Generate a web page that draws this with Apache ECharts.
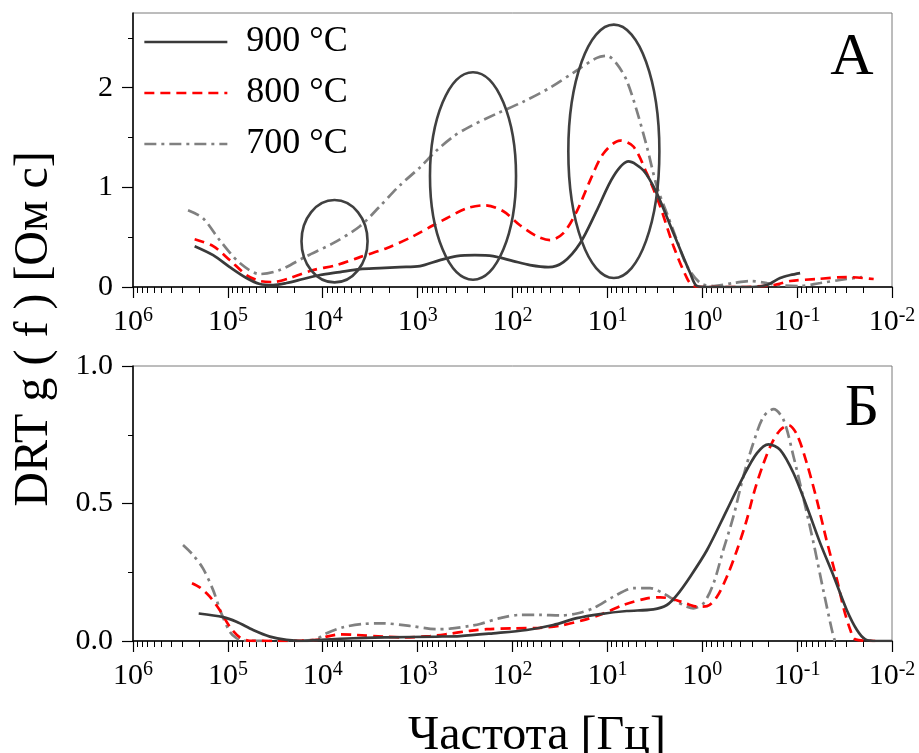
<!DOCTYPE html>
<html>
<head>
<meta charset="utf-8">
<script src="https://cdn.jsdelivr.net/npm/echarts@6/dist/echarts.min.js"></script>
<style>
  html, body { margin: 0; padding: 0; background: #fff; }
  #chart { width: 919px; height: 753px; }
</style>
</head>
<body>
<div id="chart"></div>
<script>
// Frequency axis: decades from 1 MHz down to 10 mHz
const decadeTicks = [1e6, 1e5, 1e4, 1e3, 1e2, 1e1, 1e0, 1e-1, 1e-2];
const seriesNames = ['900 °C', '800 °C', '700 °C'];
const panelLetters = ['А', 'Б'];
const yTicksA = [0, 1, 2];
const yMinorA = [0.5, 1.5, 2.5];
const yTicksB = [0, 0.5, 1];
const yMinorB = [0.25, 0.75];

// Panel А: DRT g(f), Ом·с
const freqA900 = [2.24e5, 1.43e5, 9.55e4, 6.37e4, 4.6e4, 3.33e4, 2.41e4, 1.61e4, 1.07e4, 6.6e3, 4.06e3, 2.5e3, 1.54e3, 946, 582, 388, 249, 160, 98, 65.3, 41.9, 29.1, 19.4, 12.9, 8.65, 6.0, 4.17, 3.01, 2.01, 1.34, 1.14, 0.89, 0.5, 0.3, 0.208, 0.151, 0.118, 0.093];
const gA900    = [0.41, 0.32, 0.20, 0.09, 0.03, 0.02, 0.04, 0.08, 0.12, 0.15, 0.18, 0.19, 0.20, 0.21, 0.27, 0.31, 0.32, 0.31, 0.26, 0.22, 0.20, 0.25, 0.44, 0.77, 1.11, 1.26, 1.17, 0.94, 0.54, 0.14, 0.01, 0, 0, 0, 0.02, 0.09, 0.12, 0.14];

const freqA800 = [2.24e5, 1.43e5, 9.55e4, 6.37e4, 4.6e4, 3.33e4, 2.22e4, 1.26e4, 7.14e3, 4.06e3, 2.12e3, 1.11e3, 684, 494, 304, 195, 125, 83.4, 55.6, 40.3, 29.1, 21.0, 15.2, 11.0, 7.35, 5.32, 3.84, 2.78, 2.01, 1.45, 1.24, 0.89, 0.4, 0.177, 0.118, 0.062, 0.030, 0.0156];
const gA800    = [0.48, 0.41, 0.27, 0.12, 0.06, 0.05, 0.09, 0.17, 0.22, 0.30, 0.39, 0.51, 0.62, 0.69, 0.79, 0.82, 0.76, 0.62, 0.51, 0.47, 0.54, 0.76, 1.07, 1.34, 1.47, 1.41, 1.14, 0.81, 0.41, 0.09, 0.01, 0, 0, 0.02, 0.06, 0.08, 0.10, 0.08];

const freqA700 = [2.63e5, 1.83e5, 1.22e5, 7.48e4, 4.6e4, 2.84e4, 1.48e4, 7.76e3, 4.06e3, 2.5e3, 1.54e3, 946, 631, 421, 281, 147, 76.9, 40.3, 22.9, 12.9, 10.1, 7.96, 6.24, 4.90, 3.84, 3.01, 2.36, 1.85, 1.45, 1.05, 0.76, 0.47, 0.31, 0.208, 0.163, 0.093, 0.057, 0.030, 0.0207];
const gA700    = [0.77, 0.69, 0.47, 0.24, 0.13, 0.17, 0.31, 0.44, 0.61, 0.81, 1.02, 1.20, 1.37, 1.51, 1.61, 1.74, 1.86, 2.00, 2.15, 2.30, 2.32, 2.24, 2.07, 1.77, 1.41, 1.01, 0.74, 0.47, 0.21, 0.04, 0.01, 0.04, 0.06, 0.04, 0.02, 0.01, 0.04, 0.08, 0.10];

// Panel Б
const freqB900 = [2.03e5, 1.12e5, 8.11e4, 5.42e4, 3.61e4, 2.41e4, 1.61e4, 1.07e4, 4.78e3, 2.12e3, 631, 358, 160, 70.8, 37.2, 21.0, 11.9, 6.24, 3.27, 2.36, 1.85, 1.34, 0.89, 0.55, 0.37, 0.265, 0.20, 0.151, 0.109, 0.079, 0.057, 0.041, 0.030, 0.0234, 0.0191, 0.0144, 0.01];
const gB900    = [0.10, 0.087, 0.070, 0.040, 0.016, 0.004, 0, 0.004, 0.010, 0.013, 0.016, 0.018, 0.028, 0.040, 0.058, 0.083, 0.098, 0.109, 0.115, 0.131, 0.167, 0.234, 0.331, 0.476, 0.597, 0.683, 0.715, 0.695, 0.610, 0.488, 0.355, 0.234, 0.113, 0.040, 0.006, 0, 0];

const freqB800 = [2.39e5, 1.98e5, 1.55e5, 1.22e5, 9.55e4, 7.48e4, 5.87e4, 3.0e4, 1.16e4, 9.12e3, 6.6e3, 4.4e3, 2.31e3, 1.42e3, 741, 494, 281, 187, 98, 51.3, 31.6, 17.9, 11.0, 6.78, 3.84, 2.78, 2.01, 1.45, 1.14, 0.89, 0.70, 0.55, 0.43, 0.34, 0.28, 0.226, 0.185, 0.151, 0.123, 0.100, 0.079, 0.062, 0.049, 0.038, 0.032, 0.0275, 0.0244, 0.015];
const gB800    = [0.21, 0.195, 0.161, 0.113, 0.052, 0.013, 0.001, 0, 0.004, 0.016, 0.024, 0.022, 0.016, 0.013, 0.018, 0.025, 0.037, 0.043, 0.046, 0.048, 0.056, 0.076, 0.10, 0.131, 0.155, 0.159, 0.152, 0.135, 0.125, 0.127, 0.161, 0.234, 0.331, 0.44, 0.549, 0.646, 0.719, 0.767, 0.785, 0.749, 0.646, 0.513, 0.367, 0.222, 0.113, 0.04, 0.006, 0];

const freqB700 = [2.97e5, 2.33e5, 1.83e5, 1.43e5, 1.17e5, 9.55e4, 8.11e4, 6.91e4, 3.0e4, 1.26e4, 9.12e3, 6.09e3, 3.75e3, 2.31e3, 1.21e3, 631, 456, 281, 220, 136, 83.4, 51.3, 31.6, 21.0, 14.1, 8.65, 5.32, 3.55, 2.56, 1.85, 1.45, 1.24, 0.97, 0.76, 0.60, 0.47, 0.37, 0.29, 0.226, 0.177, 0.139, 0.109, 0.085, 0.067, 0.053, 0.043, 0.040];
const gB700    = [0.349, 0.313, 0.264, 0.185, 0.10, 0.034, 0.01, 0.001, 0, 0.004, 0.028, 0.05, 0.062, 0.064, 0.055, 0.043, 0.045, 0.055, 0.062, 0.083, 0.095, 0.095, 0.093, 0.10, 0.119, 0.161, 0.192, 0.192, 0.173, 0.143, 0.125, 0.119, 0.137, 0.21, 0.331, 0.452, 0.597, 0.719, 0.816, 0.843, 0.804, 0.67, 0.513, 0.355, 0.185, 0.04, 0];

// Highlighted regions in panel А (frequency span and g span of each ring)
const ringFreqLeft  = [1.675e4, 741, 25.8];
const ringFreqRight = [3.37e3, 91.8, 2.83];
const ringGLow      = [0.046, 0.073, 0.09];
const ringGHigh     = [0.873, 2.156, 2.633];

const FONT = 'Liberation Serif';
const lineColors = ['#3a3a3a', '#ff0000', '#808080'];
const lineDash = ['solid', [10, 6], [12, 5, 3, 5]];

// minor decade ticks 2..9 × 10^k
const minorTicks = [];
for (let k = -2; k < 6; k++) {
  for (let m = 2; m <= 9; m++) minorTicks.push(m * Math.pow(10, k));
}

const toPairs = (fs, gs) => fs.map((f, i) => [f, gs[i]]);

const gridLeft = 133, gridRight = 27;
const grids = [
  { left: gridLeft, right: gridRight, top: 13, height: 274 },
  { left: gridLeft, right: gridRight, top: 366, height: 275 }
].map(g => Object.assign(g, {
  show: true, borderColor: '#7a7a7a', borderWidth: 1,
  containLabel: false, outerBoundsMode: 'none'
}));

function freqAxis(gridIndex, minor) {
  const ax = {
    gridIndex, type: 'log', logBase: 10, min: 0.01, max: 1e6, inverse: true,
    position: 'bottom', splitLine: { show: false }, minorSplitLine: { show: false }
  };
  if (minor) {
    ax.axisLine = { show: false };
    ax.axisLabel = { show: false };
    ax.axisTick = { show: true, customValues: minorTicks, length: 6, lineStyle: { color: '#000', width: 1 } };
  } else {
    ax.axisLine = { show: true, onZero: false, lineStyle: { color: '#000', width: 1.5 } };
    ax.axisTick = { show: true, customValues: decadeTicks, length: 11, lineStyle: { color: '#000', width: 1.2 } };
    ax.axisLabel = {
      show: true, customValues: decadeTicks, margin: 19, hideOverlap: false,
      formatter: v => '{b|10}{s|' + Math.round(Math.log10(v)) + '}',
      rich: {
        b: { fontFamily: FONT, fontSize: 30, color: '#000', lineHeight: 32 },
        s: { fontFamily: FONT, fontSize: 20, color: '#000', verticalAlign: 'top', lineHeight: 20 }
      }
    };
  }
  return ax;
}

function gAxis(gridIndex, max, ticks, minorVals, fmt, minor) {
  const ax = {
    gridIndex, type: 'value', min: 0, max, position: 'left', splitLine: { show: false }
  };
  if (minor) {
    ax.axisLine = { show: false };
    ax.axisLabel = { show: false };
    ax.axisTick = { show: true, customValues: minorVals, length: 5, lineStyle: { color: '#000', width: 1 } };
  } else {
    ax.axisLine = { show: true, onZero: false, lineStyle: { color: '#000', width: 1.5 } };
    ax.axisTick = { show: true, customValues: ticks, length: 11, lineStyle: { color: '#000', width: 1.2 } };
    ax.axisLabel = {
      show: true, customValues: ticks, margin: 20, formatter: fmt,
      fontFamily: FONT, fontSize: 30, color: '#000'
    };
  }
  return ax;
}

const panelData = [
  [toPairs(freqA900, gA900), toPairs(freqA800, gA800), toPairs(freqA700, gA700)],
  [toPairs(freqB900, gB900), toPairs(freqB800, gB800), toPairs(freqB700, gB700)]
];

const series = [];
panelData.forEach((sets, p) => {
  sets.forEach((data, i) => {
    series.push({
      name: seriesNames[i], type: 'line', xAxisIndex: p * 2, yAxisIndex: p * 2,
      data, smooth: 0.3, symbol: 'none', showSymbol: false,
      lineStyle: { color: lineColors[i], width: 2.7, type: lineDash[i] },
      itemStyle: { color: lineColors[i] }, z: 3 + (2 - i)
    });
  });
});

series.push({
  name: 'rings', type: 'custom', xAxisIndex: 0, yAxisIndex: 0, z: 10,
  data: ringFreqLeft.map((f, i) => [f, ringGLow[i], ringFreqRight[i], ringGHigh[i]]),
  encode: { x: [0, 2], y: [1, 3] },
  renderItem: (params, api) => {
    const a = api.coord([api.value(0), api.value(1)]);
    const b = api.coord([api.value(2), api.value(3)]);
    return {
      type: 'ellipse',
      shape: {
        cx: (a[0] + b[0]) / 2, cy: (a[1] + b[1]) / 2,
        rx: Math.abs(b[0] - a[0]) / 2, ry: Math.abs(b[1] - a[1]) / 2
      },
      style: { fill: 'none', stroke: '#404040', lineWidth: 2.6 }
    };
  }
});

const option = {
  animation: false,
  backgroundColor: '#fff',
  grid: grids,
  xAxis: [freqAxis(0, false), freqAxis(0, true), freqAxis(1, false), freqAxis(1, true)],
  yAxis: [
    gAxis(0, 2.75, yTicksA, yMinorA, v => String(v), false),
    gAxis(0, 2.75, yTicksA, yMinorA, null, true),
    gAxis(1, 1, yTicksB, yMinorB, v => v.toFixed(1), false),
    gAxis(1, 1, yTicksB, yMinorB, null, true)
  ],
  legend: {
    data: seriesNames, orient: 'vertical', left: 143, top: 24, padding: 0,
    itemWidth: 83, itemHeight: 14, itemGap: 15,
    itemStyle: { opacity: 0 },
    lineStyle: { width: 2.7 },
    textStyle: { fontFamily: FONT, fontSize: 36, color: '#000', padding: [0, 0, 0, 14] },
    selectedMode: false
  },
  graphic: [
    {
      type: 'text', x: 34, y: 329, rotation: Math.PI / 2,
      style: { text: 'DRT g ( f ) [Ом с]', font: '48px "Liberation Serif"', fill: '#000', align: 'center', verticalAlign: 'middle' }
    },
    {
      type: 'text', x: 537, y: 736,
      style: { text: 'Частота [Гц]', font: '48px "Liberation Serif"', fill: '#000', align: 'center', verticalAlign: 'middle' }
    },
    {
      type: 'text', x: 852, y: 58,
      style: { text: panelLetters[0], font: '60px "Liberation Serif"', fill: '#000', align: 'center', verticalAlign: 'middle' }
    },
    {
      type: 'text', x: 862, y: 409,
      style: { text: panelLetters[1], font: '60px "Liberation Serif"', fill: '#000', align: 'center', verticalAlign: 'middle' }
    }
  ],
  series
};

const chart = echarts.init(document.getElementById('chart'), null, { renderer: 'canvas' });
chart.setOption(option);
</script>
</body>
</html>
